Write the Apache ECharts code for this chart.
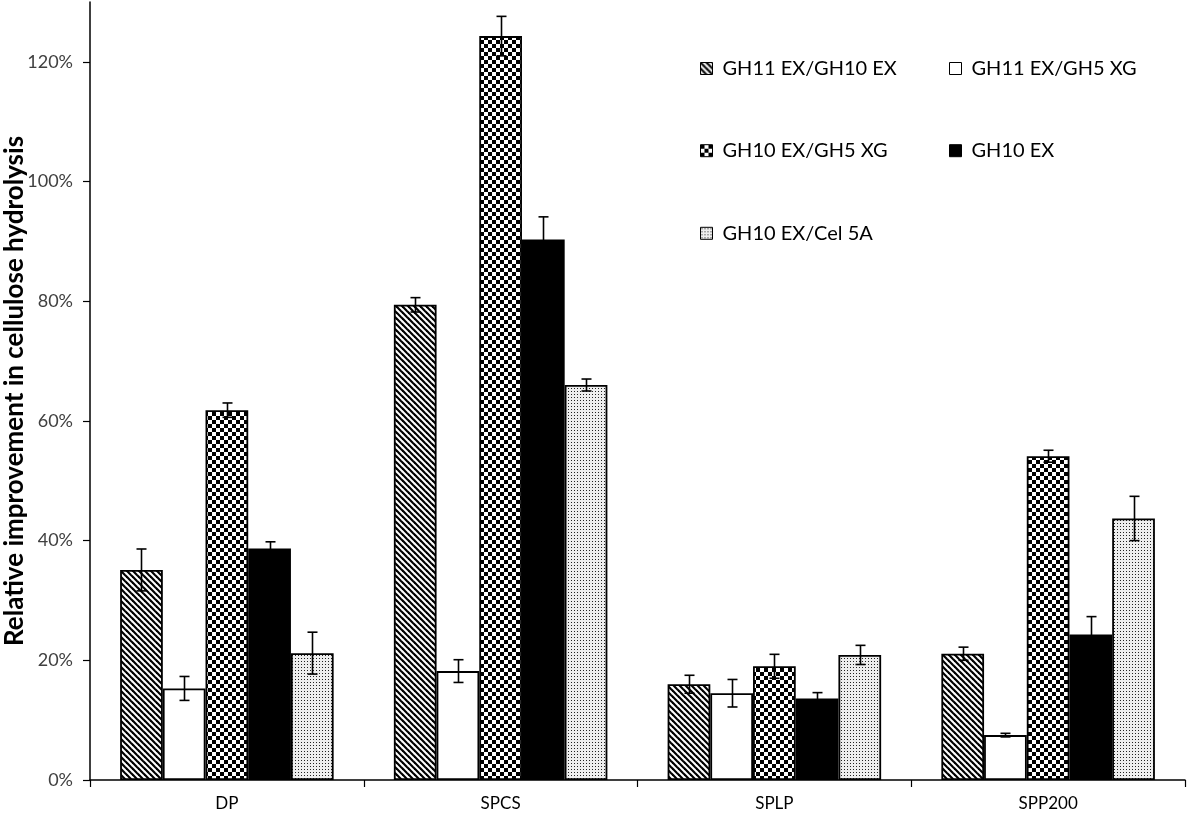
<!DOCTYPE html>
<html>
<head>
<meta charset="utf-8">
<script src="https://cdn.jsdelivr.net/npm/echarts@6/dist/echarts.min.js"></script>
<style>
html,body{margin:0;padding:0;background:#fff;}
#chart{width:1200px;height:816px;}
</style>
</head>
<body>
<div id="chart"></div>
<script>
// ---- data ----
const categories = ['DP', 'SPCS', 'SPLP', 'SPP200'];
const seriesNames = ['GH11 EX/GH10 EX', 'GH11 EX/GH5 XG', 'GH10 EX/GH5 XG', 'GH10 EX', 'GH10 EX/Cel 5A'];
const valGH11_GH10 = [35.1, 79.4, 16.0, 21.1];
const errGH11_GH10 = [3.5, 1.2, 1.5, 1.1];
const valGH11_GH5 = [15.3, 18.2, 14.5, 7.5];
const errGH11_GH5 = [2.0, 1.9, 2.3, 0.3];
const valGH10_GH5 = [61.8, 124.3, 19.0, 54.1];
const errGH10_GH5 = [1.2, 3.3, 2.0, 1.0];
const valGH10 = [38.7, 90.3, 13.6, 24.3];
const errGH10 = [1.1, 3.8, 1.0, 3.0];
const valGH10_Cel5A = [21.2, 66.0, 20.9, 43.7];
const errGH10_Cel5A = [3.5, 1.0, 1.6, 3.7];
const yTicks = [0, 20, 40, 60, 80, 100, 120];

const values = [valGH11_GH10, valGH11_GH5, valGH10_GH5, valGH10, valGH10_Cel5A];
const errors = [errGH11_GH10, errGH11_GH5, errGH10_GH5, errGH10, errGH10_Cel5A];

// ---- patterns ----
function makeCanvas(w, h, draw) {
  const c = document.createElement('canvas');
  c.width = w; c.height = h;
  const ctx = c.getContext('2d');
  ctx.fillStyle = '#fff';
  ctx.fillRect(0, 0, w, h);
  draw(ctx);
  return c;
}
const stripes = makeCanvas(6, 6, ctx => {
  ctx.strokeStyle = '#000';
  ctx.lineWidth = 2.2;
  for (let k = -1; k <= 1; k++) {
    ctx.beginPath();
    ctx.moveTo(k * 6 - 1, -1);
    ctx.lineTo(k * 6 + 7, 7);
    ctx.stroke();
  }
});
const checker = makeCanvas(8, 8, ctx => {
  ctx.fillStyle = '#000';
  ctx.fillRect(0, 0, 4, 4);
  ctx.fillRect(4, 4, 4, 4);
});
const dots = makeCanvas(3, 3, ctx => {
  ctx.fillStyle = '#eeeeee';
  ctx.fillRect(0, 0, 3, 3);
  ctx.fillStyle = '#222';
  ctx.fillRect(1, 1, 1, 1);
});
const fills = [
  { image: stripes, repeat: 'repeat' },
  '#ffffff',
  { image: checker, repeat: 'repeat' },
  '#000000',
  { image: dots, repeat: 'repeat' }
];

const CAT_GAP = 0.22;
const FONT = 'Lato';

const barSeries = seriesNames.map((name, s) => ({
  name: name,
  type: 'bar',
  data: values[s],
  barGap: '0%',
  barCategoryGap: (CAT_GAP * 100) + '%',
  itemStyle: { color: fills[s], borderColor: '#000', borderWidth: 1.8 },
  emphasis: { disabled: true },
  silent: true,
  z: 2
}));

const errData = [];
for (let s = 0; s < seriesNames.length; s++) {
  for (let i = 0; i < categories.length; i++) {
    errData.push([i, s, values[s][i], errors[s][i]]);
  }
}

const errSeries = {
  type: 'custom',
  name: 'errors',
  silent: true,
  z: 5,
  encode: { x: 0, y: 2 },
  data: errData,
  renderItem: function (params, api) {
    const cat = api.value(0);
    const s = api.value(1);
    const v = api.value(2);
    const e = api.value(3);
    const center = api.coord([cat, v]);
    const catW = api.size([1, 0])[0];
    const barW = catW * (1 - CAT_GAP) / seriesNames.length;
    const x = Math.round(center[0] + (s - (seriesNames.length - 1) / 2) * barW) + 0.5;
    const yTop = api.coord([cat, v + e])[1];
    const yBot = api.coord([cat, v - e])[1];
    const cap = 5;
    const style = { stroke: '#000', lineWidth: 1.6, fill: null };
    return {
      type: 'group',
      children: [
        { type: 'line', shape: { x1: x, y1: yTop, x2: x, y2: yBot }, style: style },
        { type: 'line', shape: { x1: x - cap, y1: yTop, x2: x + cap, y2: yTop }, style: style },
        { type: 'line', shape: { x1: x - cap, y1: yBot, x2: x + cap, y2: yBot }, style: style }
      ]
    };
  }
};

const legendPos = [
  { left: 700, top: 58.5 },
  { left: 949, top: 58.5 },
  { left: 700, top: 140.7 },
  { left: 949, top: 140.7 },
  { left: 700, top: 223.3 }
];
const legends = seriesNames.map((name, s) => ({
  data: [name],
  left: legendPos[s].left,
  top: legendPos[s].top,
  padding: 0,
  icon: 'rect',
  itemWidth: 12,
  itemHeight: 12,
  selectedMode: false,
  itemStyle: { borderColor: '#000', borderWidth: 1 },
  textStyle: { fontFamily: FONT, fontSize: 20, color: '#000', lineHeight: 20, padding: [0, 0, 0, 5] }
}));

const chart = echarts.init(document.getElementById('chart'), null, { renderer: 'canvas' });
chart.setOption({
  animation: false,
  backgroundColor: '#fff',
  legend: legends,
  grid: { left: 90, right: 15, top: 2, bottom: 36, containLabel: false, outerBoundsMode: 'none' },
  xAxis: {
    type: 'category',
    data: categories,
    axisLine: { lineStyle: { color: '#000', width: 1.5 } },
    axisTick: { show: true, length: 7, lineStyle: { color: '#000', width: 1.2 } },
    axisLabel: { color: '#000', fontFamily: FONT, fontSize: 17, margin: 15 }
  },
  yAxis: {
    type: 'value',
    min: 0,
    max: 130,
    interval: 20,
    name: 'Relative improvement in cellulose hydrolysis',
    nameLocation: 'middle',
    nameGap: 62,
    nameMoveOverlap: false,
    nameTextStyle: { fontFamily: FONT, fontSize: 26, fontWeight: 'bold', color: '#000' },
    axisLine: { show: true, lineStyle: { color: '#000', width: 1.5 } },
    axisTick: { show: true, length: 7, customValues: yTicks, lineStyle: { color: '#000', width: 1.2 } },
    axisLabel: { customValues: yTicks, formatter: '{value}%', color: '#404040', fontFamily: FONT, fontSize: 18, margin: 17 },
    splitLine: { show: false }
  },
  series: barSeries.concat([errSeries])
});
</script>
</body>
</html>
